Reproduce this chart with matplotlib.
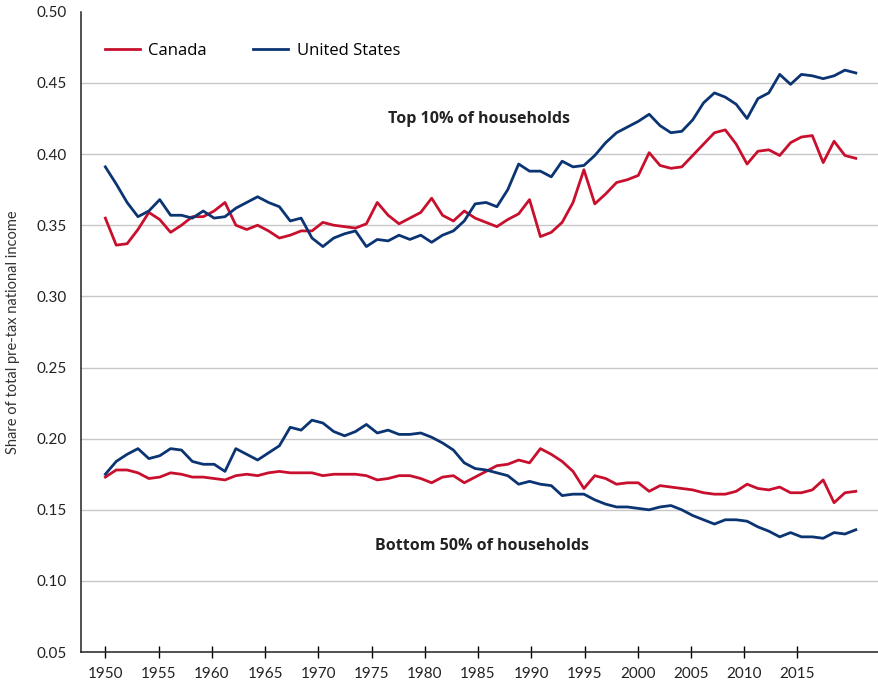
import numpy as np
import matplotlib
matplotlib.use("Agg")
import matplotlib.pyplot as plt

years = list(range(1950, 2020))

canada_top10 = [
    0.355, 0.336, 0.337, 0.347, 0.359, 0.354, 0.345, 0.350, 0.356, 0.356,
    0.360, 0.366, 0.350, 0.347, 0.350, 0.346, 0.341, 0.343, 0.346, 0.346,
    0.352, 0.350, 0.349, 0.348, 0.351, 0.366, 0.357, 0.351, 0.355, 0.359,
    0.369, 0.357, 0.353, 0.360, 0.355, 0.352, 0.349, 0.354, 0.358, 0.368,
    0.342, 0.345, 0.352, 0.366, 0.389, 0.365, 0.372, 0.380, 0.382, 0.385,
    0.401, 0.392, 0.390, 0.391, 0.399, 0.407, 0.415, 0.417, 0.407, 0.393,
    0.402, 0.403, 0.399, 0.408, 0.412, 0.413, 0.394, 0.409, 0.399, 0.397,
]
us_top10 = [
    0.391, 0.379, 0.366, 0.356, 0.360, 0.368, 0.357, 0.357, 0.355, 0.360,
    0.355, 0.356, 0.362, 0.366, 0.370, 0.366, 0.363, 0.353, 0.355, 0.341,
    0.335, 0.341, 0.344, 0.346, 0.335, 0.340, 0.339, 0.343, 0.340, 0.343,
    0.338, 0.343, 0.346, 0.353, 0.365, 0.366, 0.363, 0.375, 0.393, 0.388,
    0.388, 0.384, 0.395, 0.391, 0.392, 0.399, 0.408, 0.415, 0.419, 0.423,
    0.428, 0.420, 0.415, 0.416, 0.424, 0.436, 0.443, 0.440, 0.435, 0.425,
    0.439, 0.443, 0.456, 0.449, 0.456, 0.455, 0.453, 0.455, 0.459, 0.457,
]
canada_bottom50 = [
    0.173, 0.178, 0.178, 0.176, 0.172, 0.173, 0.176, 0.175, 0.173, 0.173,
    0.172, 0.171, 0.174, 0.175, 0.174, 0.176, 0.177, 0.176, 0.176, 0.176,
    0.174, 0.175, 0.175, 0.175, 0.174, 0.171, 0.172, 0.174, 0.174, 0.172,
    0.169, 0.173, 0.174, 0.169, 0.173, 0.177, 0.181, 0.182, 0.185, 0.183,
    0.193, 0.189, 0.184, 0.177, 0.165, 0.174, 0.172, 0.168, 0.169, 0.169,
    0.163, 0.167, 0.166, 0.165, 0.164, 0.162, 0.161, 0.161, 0.163, 0.168,
    0.165, 0.164, 0.166, 0.162, 0.162, 0.164, 0.171, 0.155, 0.162, 0.163,
]
us_bottom50 = [
    0.175, 0.184, 0.189, 0.193, 0.186, 0.188, 0.193, 0.192, 0.184, 0.182,
    0.182, 0.177, 0.193, 0.189, 0.185, 0.190, 0.195, 0.208, 0.206, 0.213,
    0.211, 0.205, 0.202, 0.205, 0.210, 0.204, 0.206, 0.203, 0.203, 0.204,
    0.201, 0.197, 0.192, 0.183, 0.179, 0.178, 0.176, 0.174, 0.168, 0.170,
    0.168, 0.167, 0.160, 0.161, 0.161, 0.157, 0.154, 0.152, 0.152, 0.151,
    0.150, 0.152, 0.153, 0.150, 0.146, 0.143, 0.140, 0.143, 0.143, 0.142,
    0.138, 0.135, 0.131, 0.134, 0.131, 0.131, 0.130, 0.134, 0.133, 0.136,
]

tick_labels = ["1950", "1955", "1960", "1965", "1970", "1975", "1980",
               "1985", "1990", "1995", "2000", "2005", "2010", "2015"]

RED = "#C8102E"
BLUE = "#0B3473"
plt.rcParams["font.family"] = ["Lato", "DejaVu Sans"]
WIDE = ["Open Sans", "DejaVu Sans"]

fig = plt.figure(figsize=(8.79, 6.93), dpi=100)
ax = fig.add_axes([0.092, 0.059, 0.907, 0.924])

ax.plot(years, canada_top10, color=RED, lw=2.0, label="Canada")
ax.plot(years, us_top10, color=BLUE, lw=2.0, label="United States")
ax.plot(years, canada_bottom50, color=RED, lw=2.0)
ax.plot(years, us_bottom50, color=BLUE, lw=2.0)

ax.set_xlim(1947.75, 2021.05)
ax.set_ylim(0.05, 0.50)

# the source's year labels are spaced a bit tighter than the data points
tick_pos = [1950 + i * 4.895 for i in range(len(tick_labels))]
ax.set_xticks(tick_pos)
ax.set_xticklabels(tick_labels, fontsize=11, color="#222222")
ax.tick_params(axis="x", direction="inout", length=9, width=1, pad=6)

yt = np.arange(0.05, 0.501, 0.05)
ax.set_yticks(yt)
ax.set_yticklabels([f"{v:.2f}" for v in yt], fontsize=11, color="#222222")
ax.tick_params(axis="y", length=0, pad=10)

ax.yaxis.grid(True, color="#c8c8c8", lw=1)
ax.set_axisbelow(True)
ax.get_ygridlines()[-1].set_visible(False)

for s in ["top", "right"]:
    ax.spines[s].set_visible(False)
for s in ["left", "bottom"]:
    ax.spines[s].set_color("#222222")
    ax.spines[s].set_linewidth(1.1)

ax.set_ylabel("Share of total pre-tax national income", fontsize=10.5,
              color="#333333", labelpad=12)

ax.text(1984.4, 0.4248, "Top 10% of households", ha="center", va="center",
        fontsize=11.5, fontweight="bold", color="#222222", family=WIDE)
ax.text(1984.6, 0.1245, "Bottom 50% of households", ha="center", va="center",
        fontsize=11.5, fontweight="bold", color="#222222", family=WIDE)

ax.legend(loc="center left", bbox_to_anchor=(0.030, 0.939), ncol=2,
          frameon=False, borderpad=0, borderaxespad=0,
          prop={"family": WIDE, "size": 12},
          handlelength=2.1, columnspacing=2.8, handletextpad=0.5)

fig.savefig("out.png", dpi=100)
